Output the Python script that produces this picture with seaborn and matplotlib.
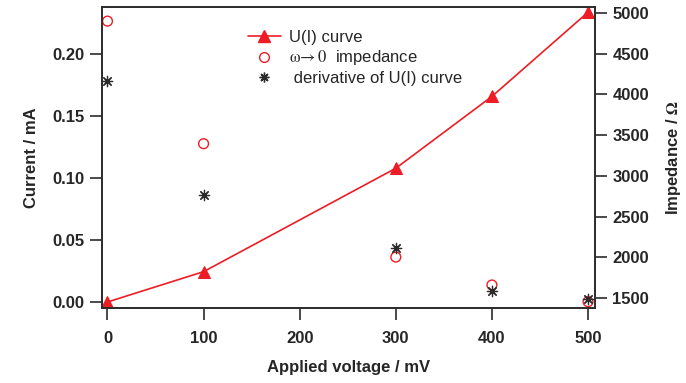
import matplotlib
matplotlib.use("Agg")
import matplotlib.pyplot as plt
import seaborn as sns
import pandas as pd
from matplotlib.lines import Line2D

# data
voltage = [0, 100, 300, 400, 500]
current = [0.000, 0.0245, 0.108, 0.166, 0.234]
imp_zero = [4900, 3395, 2003, 1660, 1455]
imp_deriv = [4165, 2770, 2114, 1590, 1488]

red = "#ee1c25"
dark = "#2b2b2b"

sns.set_style("white")
plt.rcParams["font.family"] = ["Liberation Sans", "DejaVu Sans"]
plt.rcParams["mathtext.fontset"] = "stix"

df = pd.DataFrame({"V": voltage, "I": current, "Z0": imp_zero, "Zd": imp_deriv})

fig = plt.figure(figsize=(6.86, 3.83), dpi=100)
ax = fig.add_axes([0.1487, 0.195, 0.7187, 0.786])
ax2 = ax.twinx()

sns.lineplot(data=df, x="V", y="I", ax=ax, color=red, lw=1.2,
             marker="^", markersize=9, markeredgecolor=red, legend=False)
sns.scatterplot(data=df, x="V", y="Z0", ax=ax2, marker="o", s=50,
                facecolor="none", edgecolor=red, linewidth=1.0, legend=False)
ax2.scatter(df["V"], df["Zd"], marker=(8, 2, 0), s=55, color=dark, linewidths=0.9)

ax.set_xlim(-5.7, 507.3)
ax.set_ylim(-0.0051, 0.238)
ax2.set_ylim(1373.5, 5070)
ax.set_xticks([0, 100, 200, 300, 400, 500])
ax.set_yticks([0.0, 0.05, 0.10, 0.15, 0.20])
ax.set_yticklabels(["0.00", "0.05", "0.10", "0.15", "0.20"])
ax2.set_yticks([1500, 2000, 2500, 3000, 3500, 4000, 4500, 5000])

ax.set_xlabel("Applied voltage / mV", fontsize=12, fontweight="bold", labelpad=10)
ax.set_ylabel("Current / mA", fontsize=12, fontweight="bold", labelpad=10)
ax2.set_ylabel("Impedance / $\\mathbf{\\Omega}$", fontsize=12, fontweight="bold", labelpad=11)

for a in (ax, ax2):
    for s in a.spines.values():
        s.set_color(dark)
        s.set_linewidth(1.2)
    a.tick_params(direction="out", length=8.5, width=1.2, color=dark, labelsize=12, pad=4)
    for t in a.get_xticklabels() + a.get_yticklabels():
        t.set_fontweight("bold")
ax.tick_params(axis="x", bottom=True, pad=8)
ax.tick_params(axis="y", left=True)
ax2.tick_params(axis="y", right=True)

handles = [
    Line2D([], [], color=red, lw=1.2, marker="^", markersize=9),
    Line2D([], [], color=red, lw=0, marker="o", markersize=7, markerfacecolor="none"),
    Line2D([], [], color=dark, lw=0, marker=(8, 2, 0), markersize=7),
]
labels = ["U(I) curve", "$\\mathrm{\\omega}\\!\\rightarrow 0$  impedance", " derivative of U(I) curve"]
ax.legend(handles, labels, loc="upper left", bbox_to_anchor=(0.265, 0.975),
          frameon=False, fontsize=12, handlelength=2.0, labelspacing=0.22,
          handletextpad=0.5)

fig.savefig("out.png", dpi=100)
